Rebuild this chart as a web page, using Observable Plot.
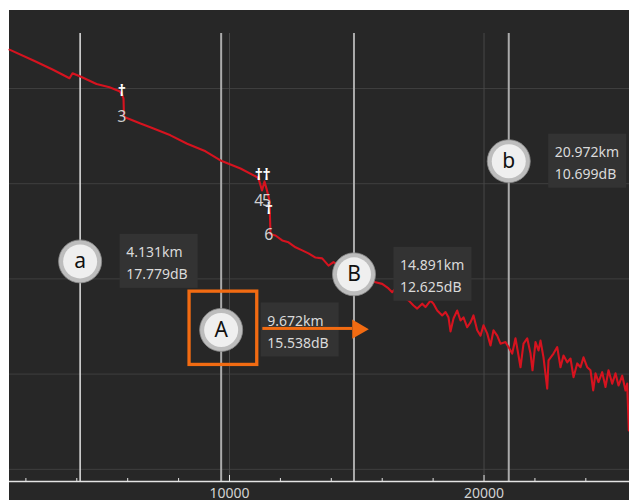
<!DOCTYPE html>
<html><head><meta charset="utf-8">
<script src="https://cdn.jsdelivr.net/npm/d3@7"></script>
<script src="https://cdn.jsdelivr.net/npm/@observablehq/plot@0.6"></script>
<style>
html,body{margin:0;padding:0;background:#ffffff;}
#chart{position:absolute;left:9px;top:10px;}
</style></head>
<body><div id="chart"></div>
<script>
// ---- data (distance in m, level in dB) ----
const traceDistance = [1356, 2339, 3046, 3714, 3832, 4185, 4775, 5285, 5678, 5776, 5835, 5855, 5914, 6503, 7014, 7682, 8338, 9057, 9646, 10432, 11088, 11140, 11277, 11375, 11454, 11572, 11611, 11807, 12071, 12318, 12593, 12857, 13104, 13379, 13642, 13890, 14086, 14479, 15343, 15736, 15999, 16247, 16393, 16522, 16758, 17045, 17229, 17375, 17571, 17701, 17897, 18015, 18161, 18357, 18487, 18605, 18683, 18801, 18946, 19076, 19194, 19339, 19469, 19586, 19732, 19862, 19980, 20125, 20255, 20373, 20518, 20648, 20844, 20962, 21108, 21237, 21355, 21434, 21552, 21697, 21827, 21905, 22023, 22141, 22220, 22337, 22483, 22534, 22730, 22876, 23005, 23123, 23269, 23398, 23516, 23662, 23791, 23909, 24055, 24184, 24290, 24381, 24498, 24644, 24773, 24891, 25037, 25166, 25284, 25430, 25559, 25626, 25689];
const traceLoss = [18.52, 18.22, 18.00, 17.77, 17.90, 17.80, 17.62, 17.53, 17.43, 17.34, 17.24, 16.77, 16.74, 16.58, 16.45, 16.27, 16.05, 15.85, 15.61, 15.40, 15.17, 15.14, 14.82, 15.06, 14.87, 14.56, 13.67, 13.64, 13.51, 13.46, 13.33, 13.25, 13.17, 13.06, 13.04, 12.85, 12.94, 12.77, 12.54, 12.41, 12.37, 12.25, 12.15, 12.25, 12.04, 11.93, 11.80, 11.72, 11.85, 11.76, 11.93, 11.85, 11.67, 11.54, 11.63, 11.49, 11.12, 11.46, 11.67, 11.41, 11.49, 11.23, 11.36, 11.54, 11.15, 11.01, 11.28, 11.07, 10.75, 11.15, 11.01, 10.80, 10.84, 10.71, 10.54, 10.94, 10.49, 10.18, 10.80, 10.94, 10.54, 10.10, 10.84, 10.62, 10.88, 10.44, 9.62, 10.36, 10.54, 10.71, 10.18, 10.49, 10.31, 10.41, 9.92, 10.28, 10.18, 10.44, 10.18, 10.10, 9.57, 10.02, 9.79, 10.05, 9.66, 10.10, 9.75, 10.02, 9.70, 9.96, 9.57, 9.75, 8.52];

const cursorNames = ["a", "A", "B", "b"];
const cursorDistance = [4131, 9672, 14891, 20972];
const cursorLoss = [17.779, 15.538, 12.625, 10.699];

const eventNames = ["3", "4", "5", "6"];
const eventDistance = [5769, 11151, 11454, 11544];
const eventLevel = [17.45, 15.22, 15.22, 14.34];

const xTickLabels = [10000, 20000];
const minorTicks = [2000, 4000, 6000, 8000, 12000, 14000, 16000, 18000, 22000, 24000];
const gridLoss = [17.5, 15, 12.5, 10, 7.5];

// ---- layout helpers ----
const badgeLevel = [12.96, 11.16, 12.62, 15.59]; // vertical placement of cursor badges
const highlighted = ["A"];
const yDomain = [7.18, 18.944];
const orange = "#f26b12";

const trace = traceDistance.map((x, i) => ({x, y: traceLoss[i]}));
const cursors = cursorNames.map((name, i) => ({name, x: cursorDistance[i], loss: cursorLoss[i], by: badgeLevel[i]}));
const events = eventNames.map((name, i) => ({name, x: eventDistance[i], y: eventLevel[i]}));
const hl = cursors.filter(d => highlighted.includes(d.name));

const chart = Plot.plot({
  width: 620,
  height: 490,
  marginLeft: 0,
  marginRight: 0,
  marginTop: 23,
  marginBottom: 19,
  style: {background: "#272727", color: "#d2d2d2", fontFamily: "'Noto Sans', sans-serif", overflow: "visible"},
  x: {domain: [1356, 25716], label: null},
  y: {domain: yDomain, axis: null},
  marks: [
    Plot.ruleY(gridLoss, {stroke: "#3f3f3f", strokeWidth: 1}),
    Plot.ruleX(xTickLabels, {stroke: "#484848", strokeWidth: 1}),
    Plot.ruleX(cursors.filter(d => d.name === "a"), {x: "x", stroke: "#e0e0e0", strokeWidth: 1.5}),
    Plot.ruleX(cursors.filter(d => d.name !== "a"), {x: "x", stroke: "#ababab", strokeWidth: 2}),
    Plot.line(trace, {x: "x", y: "y", stroke: "#d6131f", strokeWidth: 2.1, strokeLinejoin: "round"}),
    Plot.text(events, {x: "x", y: "y", text: () => "\u2020", fill: "#ffffff", fontSize: 16, fontWeight: "bold"}),
    Plot.text(events, {x: "x", y: "y", text: "name", dy: 26, fill: "#d0d0d0", fontSize: 16}),
    Plot.ruleY([yDomain[0]], {stroke: "#e4e4e4", strokeWidth: 1.5}),
    Plot.tickX(minorTicks, {stroke: "#e4e4e4", insetTop: 445}),
    Plot.tickX(xTickLabels, {stroke: "#e4e4e4", insetTop: 442}),
    Plot.axisX({ticks: xTickLabels, tickSize: 0, tickPadding: 7, fontSize: 14, label: null, tickFormat: d => String(d)}),
    Plot.rect(cursors, {x1: "x", x2: "x", y1: "by", y2: "by", fill: "#333333", insetLeft: 40, insetRight: -118, insetTop: -27, insetBottom: -27}),
    Plot.text(cursors, {x: "x", y: "by", text: d => `${(d.x / 1000).toFixed(3)}km\n${d.loss.toFixed(3)}dB`, textAnchor: "start", dx: 46, fontSize: 14, lineHeight: 1.57, fill: "#dadada"}),
    Plot.dot(cursors, {x: "x", y: "by", r: 21.5, fill: "#bdbdbd", stroke: "#8a8a8a", strokeWidth: 0.8}),
    Plot.dot(cursors, {x: "x", y: "by", r: 17, fill: "#efefef"}),
    Plot.text(cursors, {x: "x", y: "by", text: "name", fontSize: 21, fill: "#111111"}),
    Plot.rect(hl, {x1: "x", x2: "x", y1: "by", y2: "by", fill: "none", stroke: orange, strokeWidth: 3.3, insetLeft: -31.6, insetRight: -36.1, insetTop: -38.3, insetBottom: -35}),
    Plot.rect(hl, {x1: "x", x2: "x", y1: "by", y2: "by", fill: orange, insetLeft: 41.7, insetRight: -131.4, insetTop: -2.5, insetBottom: -0.5}),
    Plot.dot(hl, {x: "x", y: "by", symbol: "triangle", r: 7.1, rotate: 90, dx: 136.6, dy: -0.8, fill: orange})
  ]
});
document.getElementById("chart").appendChild(chart);
</script>
</body></html>
